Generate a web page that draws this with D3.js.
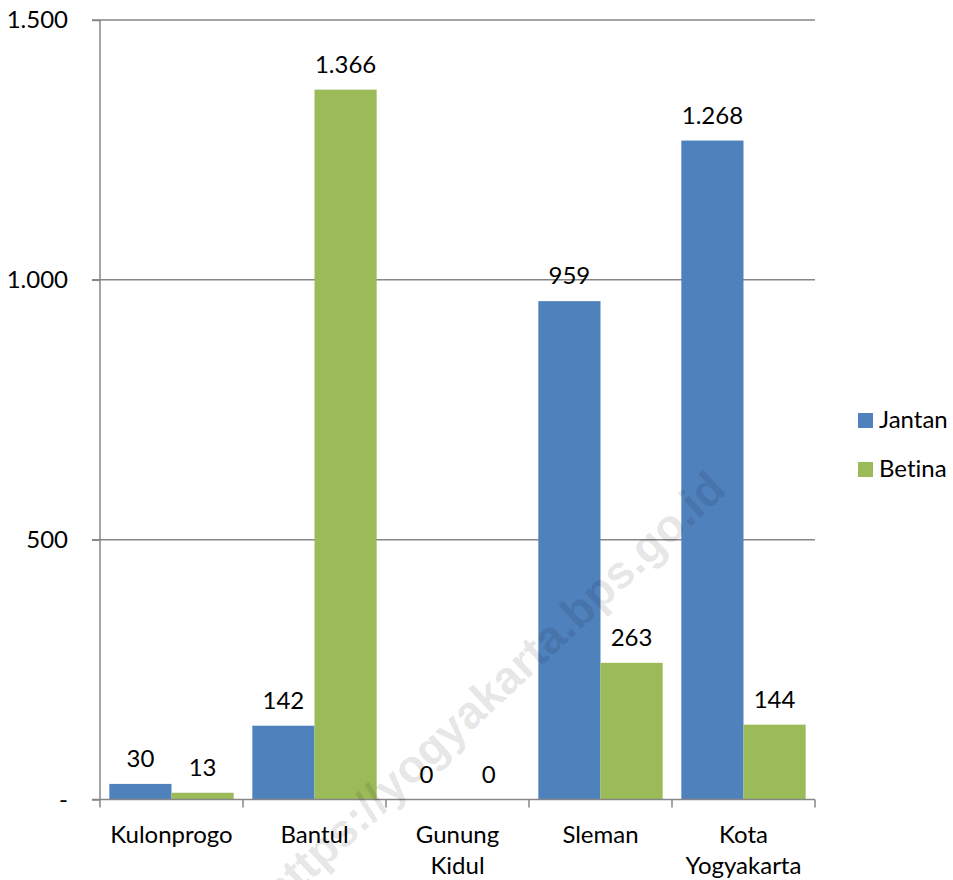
<!DOCTYPE html>
<html>
<head>
<meta charset="utf-8">
<script src="https://cdn.jsdelivr.net/npm/d3@7"></script>
<style>
  body { margin: 0; background: #fff; }
  text { font-family: Lato, "Open Sans", sans-serif; fill: #000; font-variant-ligatures: none; }
</style>
</head>
<body>
<script>
// data
var categories = ["Kulonprogo", "Bantul", "Gunung Kidul", "Sleman", "Kota Yogyakarta"];
var series = ["Jantan", "Betina"];
var jantan = [30, 142, 0, 959, 1268];
var betina = [13, 1366, 0, 263, 144];
var yTicks = [0, 500, 1000, 1500];

var colors = { Jantan: "#4F81BD", Betina: "#9BBB59" };
var values = { Jantan: jantan, Betina: betina };

var w = 953;
var h = 880;
var plotLeft = 100, plotRight = 815, plotTop = 20, plotBottom = 799.5;
var fontSize = 24;

var svg = d3.select('body')
            .append('svg')
            .attr('width', w)
            .attr('height', h);

var x = d3.scaleBand().domain(categories).range([plotLeft, plotRight]).padding(0);
var xs = d3.scaleBand().domain(series).range([0, x.bandwidth()]).paddingInner(0).paddingOuter(0.15);
var y = d3.scaleLinear().domain([0, 1500]).range([plotBottom, plotTop]);

var idLocale = d3.formatLocale({ decimal: ",", thousands: ".", grouping: [3], currency: ["", ""] });
var fmt = idLocale.format(",");

// gridlines
svg.selectAll('line.grid')
  .data(yTicks.slice(1))
  .enter()
  .append('line')
  .attr('class', 'grid')
  .attr('x1', plotLeft - 8)
  .attr('x2', plotRight)
  .attr('y1', d => y(d))
  .attr('y2', d => y(d))
  .attr('stroke', '#868686')
  .attr('stroke-width', 1.5);

// y axis
var yAxis = svg.append('g')
  .attr('transform', 'translate(' + plotLeft + ',0)')
  .call(d3.axisLeft(y)
    .tickValues(yTicks)
    .tickSize(8)
    .tickPadding(24)
    .tickFormat(d => d === 0 ? "-" : fmt(d)));
yAxis.select('.domain').attr('stroke', '#868686').attr('stroke-width', 1.5)
  .attr('d', 'M0,' + plotTop + 'V' + plotBottom);
yAxis.selectAll('.tick line').attr('stroke', '#868686').attr('stroke-width', 1.5);
yAxis.selectAll('.tick text')
  .attr('font-size', fontSize + 'px')
  .style('font-family', 'Lato, sans-serif')
  .attr('fill', '#000');

// bars
categories.forEach(function (c, i) {
  series.forEach(function (s) {
    var v = values[s][i];
    svg.append('rect')
      .attr('x', x(c) + xs(s))
      .attr('y', y(v))
      .attr('width', xs.bandwidth())
      .attr('height', y(0) - y(v))
      .attr('fill', colors[s]);
    svg.append('text')
      .text(fmt(v))
      .attr('x', x(c) + xs(s) + xs.bandwidth() / 2)
      .attr('y', y(v) - 17)
      .attr('text-anchor', 'middle')
      .attr('font-size', fontSize + 'px');
  });
});

// x axis
var xAxis = svg.append('g')
  .attr('transform', 'translate(0,' + plotBottom + ')');
xAxis.append('line')
  .attr('x1', plotLeft - 8).attr('x2', plotRight)
  .attr('stroke', '#868686').attr('stroke-width', 1.5);
xAxis.selectAll('line.tick')
  .data(categories.concat(["end"]))
  .enter()
  .append('line')
  .attr('class', 'tick')
  .attr('x1', (d, i) => plotLeft + i * x.step())
  .attr('x2', (d, i) => plotLeft + i * x.step())
  .attr('y1', 0)
  .attr('y2', 8)
  .attr('stroke', '#868686')
  .attr('stroke-width', 1.5);
var catLabels = xAxis.selectAll('text.cat')
  .data(categories)
  .enter()
  .append('text')
  .attr('class', 'cat')
  .attr('text-anchor', 'middle')
  .attr('font-size', fontSize + 'px')
  .attr('x', d => x(d) + x.bandwidth() / 2)
  .attr('y', 43);
catLabels.each(function (d) {
  var parts = d.split(' ');
  var t = d3.select(this);
  parts.forEach(function (p, j) {
    t.append('tspan')
      .attr('x', x(d) + x.bandwidth() / 2)
      .attr('dy', j === 0 ? 0 : 31)
      .text(p);
  });
});

// legend
var legend = svg.selectAll('g.legend')
  .data(series)
  .enter()
  .append('g')
  .attr('class', 'legend')
  .attr('transform', (d, i) => 'translate(858,' + (413 + i * 49) + ')');
legend.append('rect')
  .attr('width', 15)
  .attr('height', 15)
  .attr('fill', d => colors[d]);
legend.append('text')
  .text(d => d)
  .attr('x', 21)
  .attr('y', 15)
  .attr('font-size', fontSize + 'px');

// watermark
svg.append('text')
  .text('https://yogyakarta.bps.go.id')
  .attr('transform', 'translate(728,492) rotate(-43)')
  .attr('text-anchor', 'end')
  .style('font-family', '"Liberation Sans", Arial, sans-serif')
  .style('font-weight', 'bold')
  .attr('font-size', '46px')
  .style('fill', '#000')
  .style('fill-opacity', 0.11);
</script>
</body>
</html>
